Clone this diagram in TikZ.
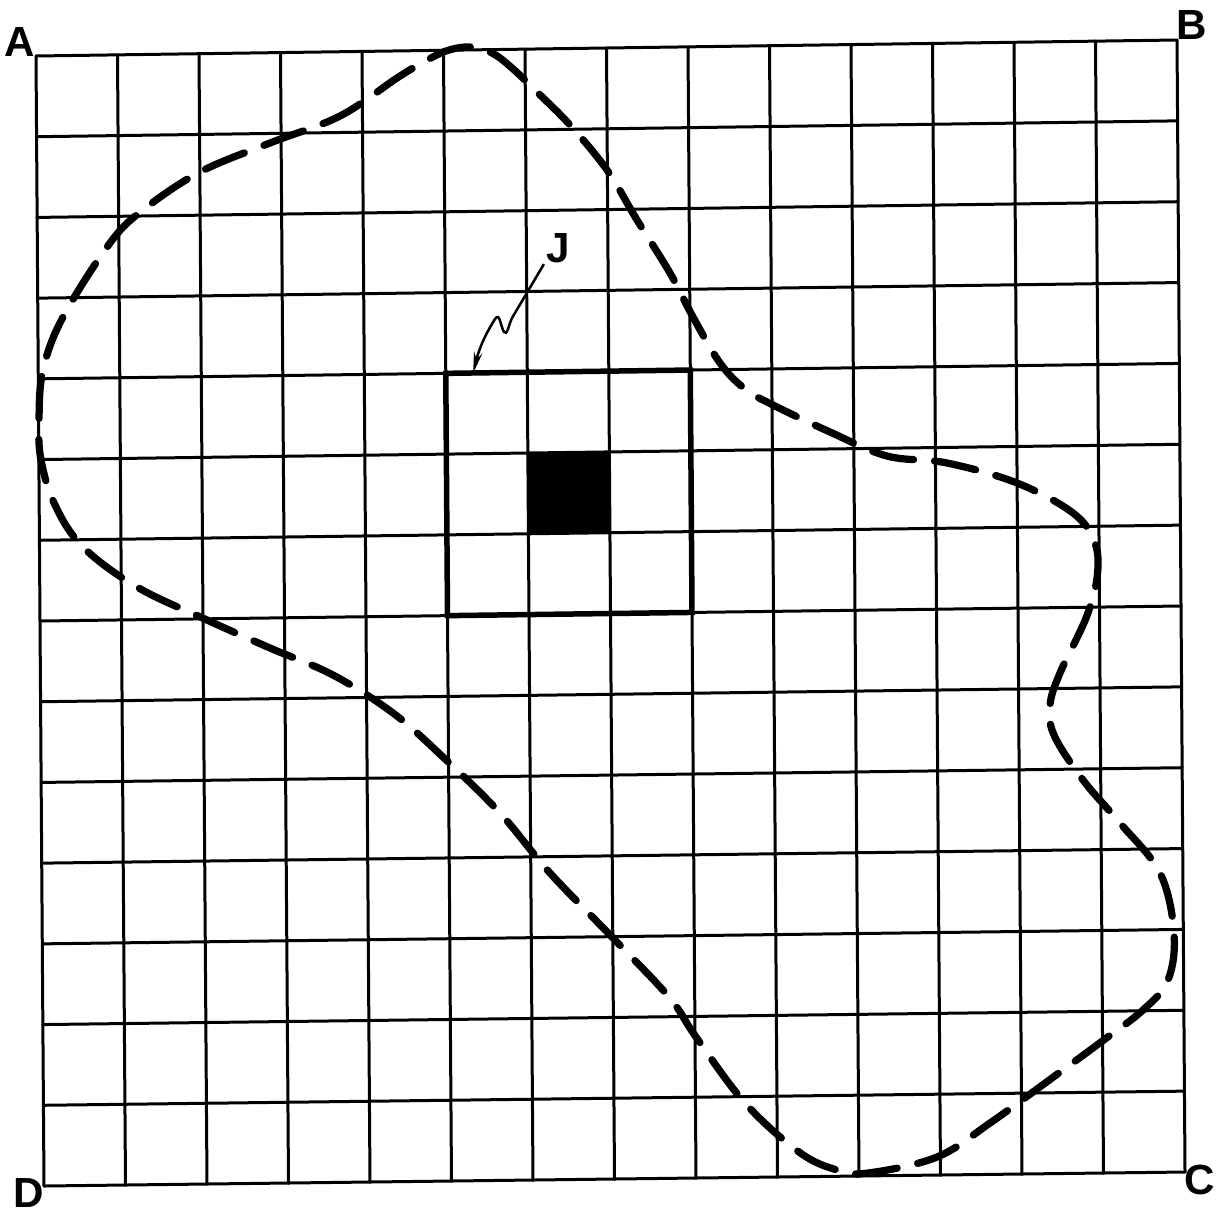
\documentclass[tikz,border=0pt]{standalone}
\usepackage{fontspec}
\setmainfont{Liberation Sans}
\usetikzlibrary{calc,arrows.meta}
\begin{document}
\begin{tikzpicture}[x=0.02cm,y=-0.02cm,
  gridline/.style={line width=0.06cm, line cap=round},
  boldbox/.style={line width=0.11cm, line cap=round, line join=miter},
  outline/.style={line width=0.145cm, line cap=round, dash pattern=on 0.84cm off 0.42cm},
  corner/.style={font=\fontsize{24}{24}\selectfont\bfseries, inner sep=0pt},
  leader/.style={line width=0.05cm, -{Stealth[length=0.42cm,width=0.17cm]}}]
\useasboundingbox (0,0) rectangle (1216,1214);
% grid corners
\coordinate (A) at (36,56);
\coordinate (B) at (1177,40);
\coordinate (C) at (1185,1172);
\coordinate (D) at (44,1186);
\foreach \i in {0,...,14}{
  \coordinate (t) at ($(A)!\i/14!(B)$);
  \coordinate (b) at ($(D)!\i/14!(C)$);
  \foreach \j in {0,...,14}{
    \coordinate (g-\i-\j) at ($(t)!\j/14!(b)$);
  }
}
% black cell
\fill (g-6-5) -- (g-7-5) -- (g-7-6) -- (g-6-6) -- cycle;
% grid
\foreach \i in {0,...,14}{
  \draw[gridline] (g-\i-0) -- (g-\i-14);
  \draw[gridline] (g-0-\i) -- (g-14-\i);
}
% bold square
\draw[boldbox] (g-5-4) -- (g-8-4) -- (g-8-7) -- (g-5-7) -- cycle;
% dashed outline
\draw[outline] plot[smooth cycle, tension=0.6] coordinates {
 (470,47) (492,53) (512,68) (537,92) (570,125) (607,170) (637,220) (670,273) (693,317)
 (720,363) (745,389) (773,405) (830,432) (887,456) (947,463) (1017,483)
 (1073,513) (1095,543) (1097,578) (1086,618) (1060,673) (1050,705) (1054,735)
 (1083,780) (1120,823) (1160,873) (1174,933) (1168,980) (1143,1010) (1101,1042)
 (1052,1078) (990,1123) (937,1157) (868,1173) (837,1170) (799,1152) (745,1103)
 (696,1037) (669,997) (612,937) (550,873) (500,813) (443,757) (393,713)
 (333,675) (270,648) (207,620) (137,587) (83,547) (55,505) (41,460) (39,420)
 (43,370) (63,317) (110,243) (143,210) (200,172) (270,143) (340,116) (397,78)
 (422,63) (446,51)};
% labels
\node[corner] (lA) at (20,42) {A};
\node[corner] (lB) at (1192,25) {B};
\node[corner] (lC) at (1200,1180) {C};
\node[corner] (lD) at (29,1193) {D};
\node[corner] (lJ) at (558,248) {J};
% leader to bold square
\coordinate (jtip) at ($(g-5-4)!0.112!(g-8-4)$);
\draw[leader] ($(lJ.south west)+(-2,1)$) -- (512,318)
  .. controls (508,327) and (507,336) .. (504,332)
  .. controls (500,325) and (500,312) .. (495,319)
  .. controls (488,330) and (480,345) .. (jtip);
\end{tikzpicture}
\end{document}
